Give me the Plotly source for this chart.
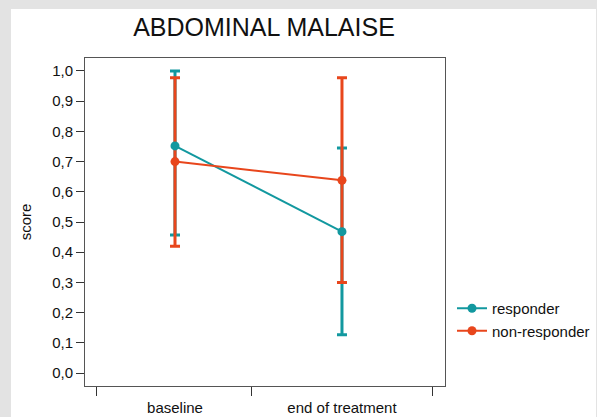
import plotly.graph_objects as go

categories = ["baseline", "end of treatment"]
cat_pos = [0, 1]
boundaries = [-0.47, 0.46, 1.54]

resp_mean = [0.752, 0.468]
resp_upper = [1.0, 0.745]
resp_lower = [0.457, 0.127]

nonr_mean = [0.700, 0.638]
nonr_upper = [0.978, 0.978]
nonr_lower = [0.420, 0.300]

y_ticks = [0.0, 0.1, 0.2, 0.3, 0.4, 0.5, 0.6, 0.7, 0.8, 0.9, 1.0]

TEAL = "#12989f"
ORANGE = "#e8461c"
FONT = "Liberation Sans, Arial, Helvetica, sans-serif"

fig = go.Figure()

def err_trace(mean, up, lo, color, width):
    return go.Scatter(
        x=cat_pos, y=mean, mode="markers",
        marker=dict(size=1, opacity=0, color=color),
        error_y=dict(type="data", symmetric=False,
                     array=[u - m for u, m in zip(up, mean)],
                     arrayminus=[m - l for m, l in zip(mean, lo)],
                     color=color, thickness=3, width=width),
        showlegend=False, hoverinfo="skip", xaxis="x", yaxis="y")

fig.add_trace(err_trace(resp_mean, resp_upper, resp_lower, TEAL, 5))
fig.add_trace(err_trace(nonr_mean, nonr_upper, nonr_lower, ORANGE, 5))

fig.add_trace(go.Scatter(x=cat_pos, y=resp_mean, mode="lines+markers", name="responder",
                         line=dict(color=TEAL, width=2), marker=dict(size=9, color=TEAL)))
fig.add_trace(go.Scatter(x=cat_pos, y=nonr_mean, mode="lines+markers", name="non-responder",
                         line=dict(color=ORANGE, width=2), marker=dict(size=9, color=ORANGE)))

L, R, T, B = 85, 152, 58, 31
W, H = 597, 417
pw, ph = W - L - R, H - T - B

def px2x(px):
    return (px - L) / pw

def py2y(py):
    return (H - B - py) / ph

fig.add_shape(type="rect", xref="paper", yref="paper",
              x0=px2x(11), x1=px2x(596), y0=py2y(430), y1=py2y(9),
              fillcolor="white", line=dict(width=0), layer="below")

fig.update_layout(
    width=W, height=H,
    margin=dict(l=L, r=R, t=T, b=B, autoexpand=False),
    paper_bgcolor="#e3e3e3", plot_bgcolor="white",
    separators=",.",
    font=dict(family=FONT, size=15, color="#111111"),
    title=dict(text="ABDOMINAL MALAISE", x=264 / W, xanchor="center",
               y=1 - 27.5 / H, yanchor="middle",
               font=dict(family=FONT, size=25, color="#111111")),
    xaxis=dict(range=[-0.539, 1.617], tickmode="array", tickvals=boundaries,
               ticktext=["", "", ""], ticks="outside", ticklen=9, tickwidth=1.3,
               tickcolor="#333333", showline=True, linecolor="#555555", linewidth=1,
               mirror=True, showgrid=False, zeroline=False, automargin=False),
    xaxis2=dict(range=[-0.539, 1.617], overlaying="x", side="bottom", anchor="y",
                tickmode="array", tickvals=cat_pos, ticktext=categories,
                ticks="outside", ticklen=8, tickcolor="rgba(0,0,0,0)",
                showline=False, showgrid=False, zeroline=False, automargin=False,
                tickfont=dict(size=15, color="#111111")),
    yaxis=dict(range=[-0.043, 1.043], tickmode="array", tickvals=y_ticks,
               tickformat=".1f", ticks="outside", ticklen=8, tickwidth=1.3,
               tickcolor="#333333", showline=True, linecolor="#555555", linewidth=1,
               mirror=True, showgrid=False, zeroline=False, automargin=False,
               tickfont=dict(size=15),
               title=dict(text="score", font=dict(size=15), standoff=16)),
    legend=dict(x=px2x(452), xanchor="left", y=py2y(292), yanchor="top",
                bgcolor="rgba(0,0,0,0)", font=dict(size=15, color="#111111"),
                tracegroupgap=0),
)

fig.add_trace(go.Scatter(x=[None], y=[None], xaxis="x2", yaxis="y", showlegend=False,
                         hoverinfo="skip"))

fig.write_html("out.html")
